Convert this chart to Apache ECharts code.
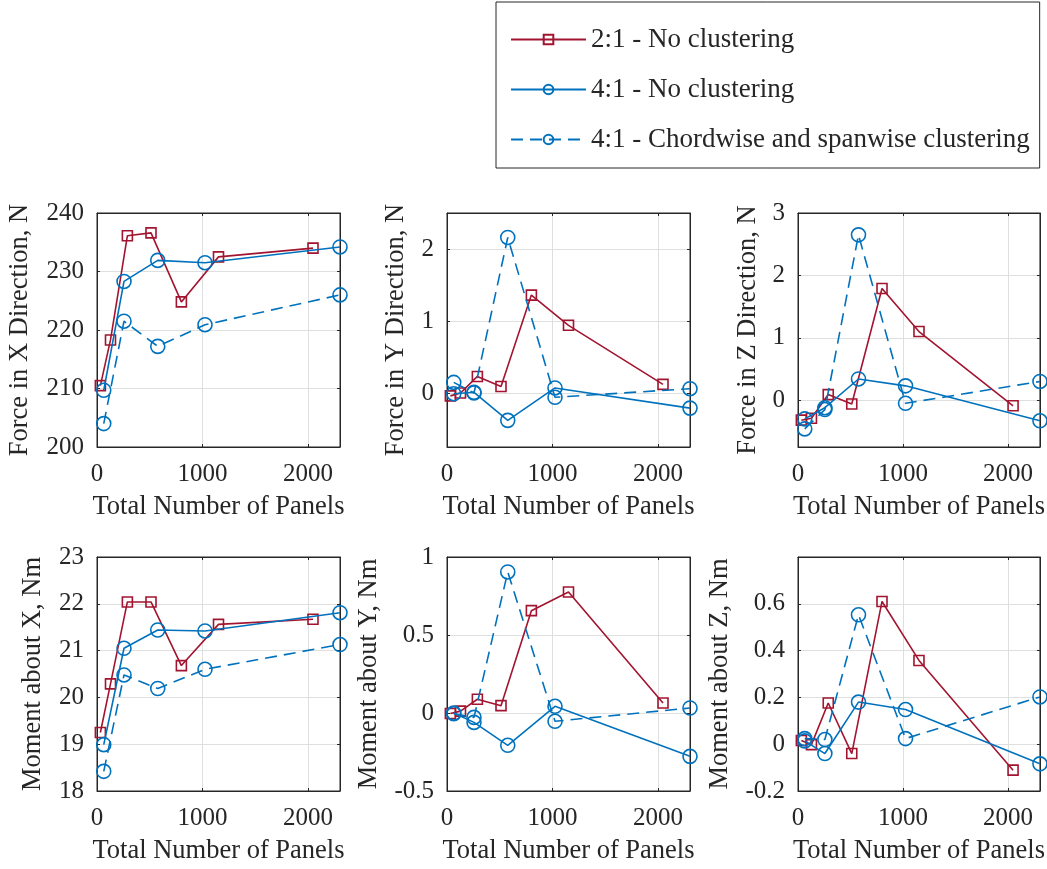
<!DOCTYPE html>
<html>
<head>
<meta charset="utf-8">
<script src="https://cdn.jsdelivr.net/npm/echarts@6/dist/echarts.min.js"></script>
<style>
html,body{margin:0;padding:0;background:#fff;}
#chart{width:1047px;height:869px;}
</style>
</head>
<body>
<div id="chart"></div>
<script>
// ---------- data ----------
const seriesNames = ['2:1 - No clustering', '4:1 - No clustering', '4:1 - Chordwise and spanwise clustering'];
const panels21 = [32, 128, 288, 512, 800, 1152, 2048];
const panels41 = [64, 256, 576, 1024, 2304];
const xTicks = [0, 1000, 2000];

const fxRed   = [210.5, 218.3, 236.1, 236.6, 224.8, 232.5, 234.0];
const fxSolid = [209.7, 228.3, 231.9, 231.5, 234.2];
const fxDash  = [204.0, 221.5, 217.2, 220.9, 226.0];

const fyRed   = [-0.04, 0.0, 0.23, 0.09, 1.36, 0.94, 0.12];
const fySolid = [-0.01, 0.01, -0.38, 0.07, -0.21];
const fyDash  = [0.147, 0.0, 2.16, -0.06, 0.06];

const fzRed   = [-0.32, -0.29, 0.09, -0.06, 1.79, 1.10, -0.09];
const fzSolid = [-0.30, -0.12, 0.34, 0.23, -0.33];
const fzDash  = [-0.46, -0.15, 2.65, -0.05, 0.30];

const mxRed   = [19.25, 20.29, 22.04, 22.04, 20.68, 21.56, 21.67];
const mxSolid = [18.99, 21.05, 21.44, 21.42, 21.81];
const mxDash  = [18.42, 20.48, 20.19, 20.60, 21.13];

const myRed   = [-0.003, 0.012, 0.088, 0.047, 0.656, 0.776, 0.064];
const mySolid = [0.0, -0.06, -0.207, 0.043, -0.278];
const myDash  = [-0.005, -0.028, 0.904, -0.053, 0.032];

const mzRed   = [0.016, -0.002, 0.176, -0.04, 0.61, 0.358, -0.111];
const mzSolid = [0.014, -0.04, 0.18, 0.148, -0.084];
const mzDash  = [0.024, 0.02, 0.553, 0.024, 0.202];

const yLabels = ['Force in X Direction, N', 'Force in Y Direction, N', 'Force in Z Direction, N',
                 'Moment about X, Nm', 'Moment about Y, Nm', 'Moment about Z, Nm'];
const yRanges = [[200, 240], [-0.75, 2.5], [-0.75, 3], [18, 23], [-0.5, 1], [-0.2, 0.8]];
const yTicks = [[200, 210, 220, 230, 240], [0, 1, 2], [0, 1, 2, 3], [18, 19, 20, 21, 22, 23], [-0.5, 0, 0.5, 1], [-0.2, 0, 0.2, 0.4, 0.6]];
const xLabel = 'Total Number of Panels';
const panelData = [
  [fxRed, fxSolid, fxDash], [fyRed, fySolid, fyDash], [fzRed, fzSolid, fzDash],
  [mxRed, mxSolid, mxDash], [myRed, mySolid, myDash], [mzRed, mzSolid, mzDash]
];

// ---------- style / layout ----------
const FONT = 'Liberation Serif';
const TXT = '#262626';
const RED = '#A2142F';
const BLUE = '#0072BD';
const GRIDC = '#dfdfdf';
const layout = [
  {left: 97, top: 213, width: 243, height: 234},
  {left: 447, top: 213, width: 243, height: 234},
  {left: 798, top: 213, width: 244, height: 234},
  {left: 97, top: 557, width: 243, height: 234},
  {left: 447, top: 557, width: 243, height: 234},
  {left: 798, top: 557, width: 244, height: 234}
];
const yNameGap = [63, 37, 36, 50, 64, 64];
const plain = v => String(v);

const grid = [], xAxis = [], yAxis = [], series = [];
layout.forEach((g, i) => {
  grid.push(Object.assign({show: true, borderColor: TXT, borderWidth: 1, backgroundColor: '#fff', containLabel: false}, g));
  const xBase = {
    gridIndex: i, type: 'value', min: 0, max: 2304,
    axisLine: {show: true, onZero: false, lineStyle: {color: TXT, width: 1}},
    axisTick: {show: true, inside: true, length: 3, customValues: xTicks, lineStyle: {color: TXT}},
    splitLine: {show: false}
  };
  xAxis.push(Object.assign({}, xBase, {
    position: 'bottom',
    axisLabel: {show: true, customValues: xTicks, formatter: plain, margin: 15, fontFamily: FONT, fontSize: 25, color: TXT},
    splitLine: {show: true, lineStyle: {color: GRIDC, width: 1}},
    name: xLabel, nameLocation: 'middle', nameGap: 47,
    nameTextStyle: {fontFamily: FONT, fontSize: 26.5, color: TXT}
  }));
  xAxis.push(Object.assign({}, xBase, {position: 'top', axisLabel: {show: false}}));
  const yBase = {
    gridIndex: i, type: 'value', min: yRanges[i][0], max: yRanges[i][1],
    axisLine: {show: true, onZero: false, lineStyle: {color: TXT, width: 1}},
    axisTick: {show: true, inside: true, length: 3, customValues: yTicks[i], lineStyle: {color: TXT}},
    splitLine: {show: false}
  };
  yAxis.push(Object.assign({}, yBase, {
    position: 'left',
    axisLabel: {show: true, customValues: yTicks[i], formatter: plain, margin: 13, fontFamily: FONT, fontSize: 25, color: TXT},
    splitLine: {show: true, lineStyle: {color: GRIDC, width: 1}},
    name: yLabels[i], nameLocation: 'middle', nameGap: yNameGap[i],
    nameTextStyle: {fontFamily: FONT, fontSize: 26.5, color: TXT}
  }));
  yAxis.push(Object.assign({}, yBase, {position: 'right', axisLabel: {show: false}}));

  const d = panelData[i];
  const xs = [panels21, panels41, panels41];
  const colors = [RED, BLUE, BLUE];
  const symbols = ['rect', 'circle', 'circle'];
  const sizes = [10, 14, 14];
  const types = ['solid', 'solid', [12, 7]];
  for (let s = 0; s < 3; s++) {
    series.push({
      type: 'line', name: seriesNames[s],
      xAxisIndex: 2 * i, yAxisIndex: 2 * i,
      data: xs[s].map((x, k) => [x, d[s][k]]),
      symbol: symbols[s], symbolSize: sizes[s], showAllSymbol: true,
      lineStyle: {color: colors[s], width: 1.6, type: types[s]},
      itemStyle: {color: 'rgba(0,0,0,0)', borderColor: colors[s], borderWidth: 1.6},
      emphasis: {disabled: true},
      animation: false, z: 3 + s
    });
  }
});

const chart = echarts.init(document.getElementById('chart'), null, {renderer: 'canvas'});
chart.setOption({
  backgroundColor: '#fff',
  animation: false,
  grid, xAxis, yAxis, series,
  legend: {
    data: seriesNames,
    orient: 'vertical', left: 496, top: 2,
    backgroundColor: '#fff', borderColor: TXT, borderWidth: 1,
    padding: [24, 10, 15, 14], itemGap: 23, itemWidth: 75, itemHeight: 12,
    selectedMode: false,
    textStyle: {fontFamily: FONT, fontSize: 27, color: TXT}
  }
});
</script>
</body>
</html>
